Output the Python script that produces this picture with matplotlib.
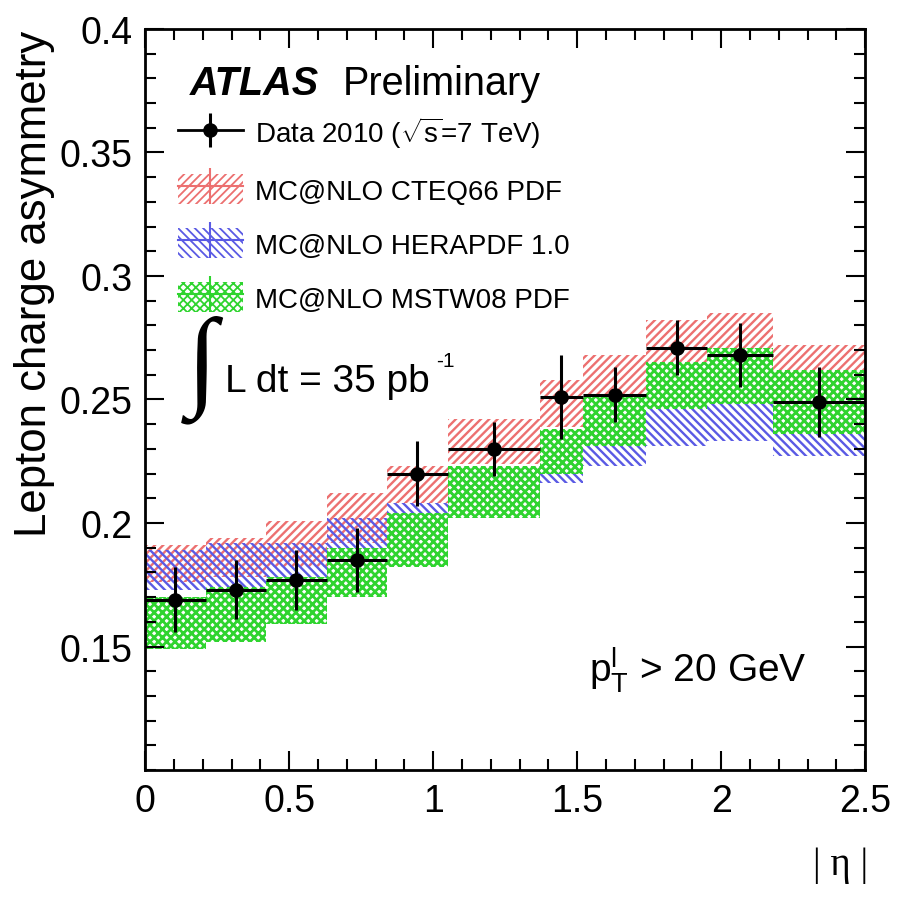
import numpy as np
import matplotlib
matplotlib.use('Agg')
import matplotlib.pyplot as plt
from matplotlib.patches import Patch
from matplotlib.lines import Line2D
from matplotlib.ticker import FixedLocator, MultipleLocator

plt.rcParams['font.family'] = ['Liberation Sans', 'DejaVu Sans']
plt.rcParams['mathtext.fontset'] = 'custom'
plt.rcParams['mathtext.rm'] = 'Liberation Sans'
plt.rcParams['mathtext.it'] = 'Liberation Sans:italic'
plt.rcParams['mathtext.bf'] = 'Liberation Sans:bold'
plt.rcParams['hatch.linewidth'] = 1.3

# |eta| bins
edges = np.array([0, 0.21, 0.42, 0.63, 0.84, 1.05, 1.37, 1.52, 1.74, 1.95, 2.18, 2.5])

# data 2010
asym = [0.169, 0.173, 0.177, 0.185, 0.220, 0.230, 0.251, 0.252, 0.271, 0.268, 0.249]
asym_err = [0.013, 0.012, 0.012, 0.013, 0.013, 0.011, 0.017, 0.011, 0.011, 0.013, 0.014]

# MC@NLO bands (low, high)
cteq_lo = [0.176, 0.178, 0.182, 0.192, 0.208, 0.224, 0.239, 0.251, 0.265, 0.270, 0.251]
cteq_hi = [0.191, 0.194, 0.201, 0.212, 0.223, 0.242, 0.258, 0.268, 0.282, 0.285, 0.272]
hera_lo = [0.173, 0.174, 0.176, 0.185, 0.193, 0.210, 0.216, 0.223, 0.231, 0.233, 0.227]
hera_hi = [0.189, 0.192, 0.192, 0.202, 0.208, 0.223, 0.232, 0.239, 0.247, 0.249, 0.243]
mstw_lo = [0.149, 0.152, 0.159, 0.170, 0.182, 0.202, 0.220, 0.231, 0.246, 0.248, 0.236]
mstw_hi = [0.170, 0.174, 0.178, 0.190, 0.204, 0.223, 0.238, 0.251, 0.265, 0.271, 0.262]

labels = ['MC@NLO CTEQ66 PDF', 'MC@NLO HERAPDF 1.0', 'MC@NLO MSTW08 PDF']
colors = ['#ec7070', '#5a5ae4', '#2fd42f']
hatches = ['////', '\\\\\\\\', 'xxxx']
hatch_lw = [1.7, 1.7, 2.0]

fig = plt.figure(figsize=(9.07, 9.04), dpi=100)
ax = fig.add_axes([0.160, 0.147, 0.794, 0.820])

widths = np.diff(edges)
centres = edges[:-1] + widths / 2

bands = [(cteq_lo, cteq_hi), (hera_lo, hera_hi), (mstw_lo, mstw_hi)]
for (lo, hi), c, h, hl in zip(bands, colors, hatches, hatch_lw):
    lo = np.array(lo)
    hi = np.array(hi)
    with plt.rc_context({'hatch.linewidth': hl}):
        ax.bar(edges[:-1], hi - lo, width=widths, bottom=lo, align='edge',
               fill=False, edgecolor=c, hatch=h, linewidth=0)

ax.errorbar(centres, asym, xerr=widths / 2, yerr=asym_err, fmt='o',
            color='black', ms=9.5, elinewidth=2.2, capsize=0, zorder=5)

ax.set_xlim(0, 2.5)
ax.set_ylim(0.1, 0.4)
ax.xaxis.set_major_locator(FixedLocator([0, 0.5, 1, 1.5, 2, 2.5]))
ax.xaxis.set_minor_locator(MultipleLocator(0.1))
ax.set_xticklabels(['0', '0.5', '1', '1.5', '2', '2.5'])
ax.yaxis.set_major_locator(FixedLocator([0.15, 0.2, 0.25, 0.3, 0.35, 0.4]))
ax.yaxis.set_minor_locator(MultipleLocator(0.01))
ax.set_yticklabels(['0.15', '0.2', '0.25', '0.3', '0.35', '0.4'])
ax.tick_params(which='both', direction='in', top=True, right=True, width=1.5, labelsize=27)
ax.tick_params(which='major', length=14, pad=9)
ax.tick_params(which='minor', length=8)
for s in ax.spines.values():
    s.set_linewidth(2)

ax.text(-0.153, 0.316, 'Lepton charge asymmetry', transform=ax.transAxes, fontsize=31.5,
        rotation=90, rotation_mode='anchor', ha='left', va='center')
ax.text(0.965, -0.127, '| η |', transform=ax.transAxes, fontsize=28,
        family=['Liberation Serif', 'DejaVu Serif'], ha='center', va='center')

# labels
ax.text(0.0625, 0.912, 'ATLAS', transform=ax.transAxes, fontsize=28.5,
        fontweight='bold', fontstyle='italic', ha='left', va='baseline')
ax.text(0.275, 0.912, 'Preliminary', transform=ax.transAxes, fontsize=28.5,
        ha='left', va='baseline')
ax.text(0.058, 0.541, '∫', transform=ax.transAxes, fontsize=80,
        family=['Liberation Serif', 'DejaVu Serif'], ha='left', va='center')
ax.text(0.111, 0.511, 'L dt = 35 pb', transform=ax.transAxes, fontsize=28,
        ha='left', va='baseline')
ax.text(0.404, 0.545, '-1', transform=ax.transAxes, fontsize=15,
        ha='left', va='baseline')
ax.text(0.617, 0.12, r'$\mathrm{p}_{\mathrm{T}}^{\mathrm{l}}$ > 20 GeV', transform=ax.transAxes,
        fontsize=28, ha='left', va='baseline')

# legend
handles = [(Line2D([], [], color='black', lw=2, marker='|', ms=24, mew=2.2),
            Line2D([], [], color='black', lw=0, marker='o', ms=9.5))]
for c, h in zip(colors, hatches):
    handles.append((Patch(fill=False, edgecolor=c, hatch=h, linewidth=0),
                    Line2D([], [], color=c, lw=1.5, marker='|', ms=26, mew=1.5)))
ax.legend(handles, ['Data 2010 ($\\sqrt{\\mathrm{s}}$=7 TeV)'] + labels,
          loc='upper left', bbox_to_anchor=(0.045, 0.884), frameon=False,
          fontsize=20, handlelength=2.35, handleheight=1.3, handletextpad=0.45,
          labelspacing=0.85, borderpad=0, borderaxespad=0)

plt.savefig('out.png', dpi=100)
